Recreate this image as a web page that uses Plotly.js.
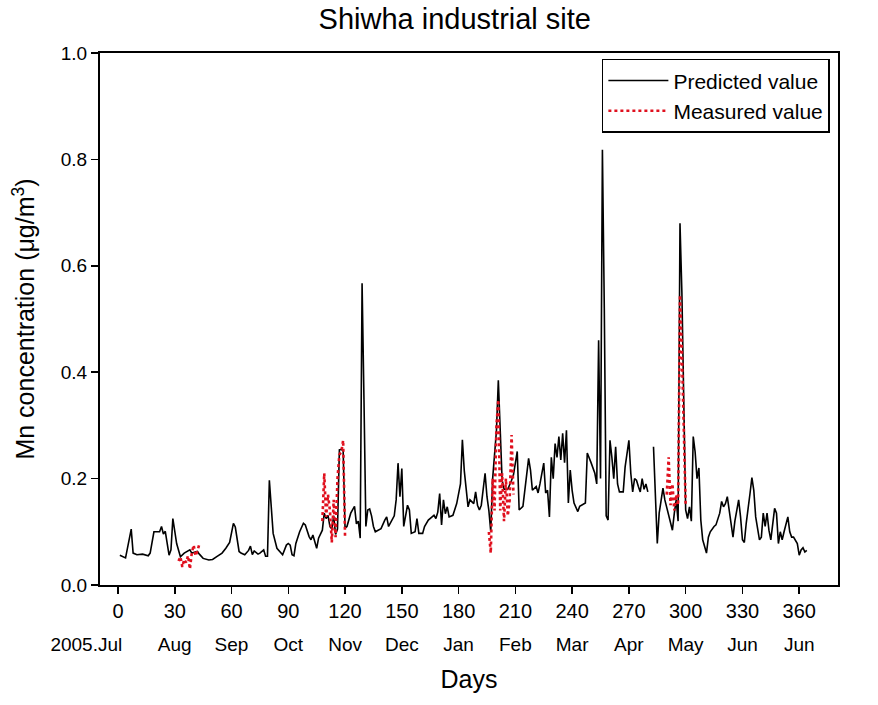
<!DOCTYPE html>
<html>
<head>
<meta charset="utf-8">
<script src="https://cdn.plot.ly/plotly-3.0.1.min.js"></script>
<style>
html,body{margin:0;padding:0;background:#fff;}
#chart{width:878px;height:705px;}
</style>
</head>
<body>
<div id="chart"></div>
<script>
// Predicted daily Mn concentration (null = gap in record)
const predDays = [1,4,7,8,10,13,16,17,19,22,23,24,25,27,28,29,31,33,35,38,39,42,43,45,48,50,52,55,57,59,61,62,64,65,67,69,70,71,72,74,75,77,78,79,80,81,82,84,86,87,89,90,91,92,93,94,96,98,99,101,102,103,105,106,108,109,110,111,112,113,114,115,116,117,118,119,120,121,123,125,126,127,128,129,130,131,132,133,134,135,136,138,139,141,142,143,145,146,147,148,149,150,151,152,153,154,155,157,158,159,161,162,164,166,167,168,169,170,171,172,173,174,175,177,178,179,181,182,183,184,185,186,188,189,190,191,192,194,195,196,197,198,200,201,202,203,204,206,208,209,211,212,214,216,217,218,219,221,222,223,225,226,227,228,229,230,231,232,233,234,235,236,237,238,239,240,241,243,244,247,248,250,252,253,254,255,256,257,258,259,260,261,262,263,264,265,267,268,269,270,271,272,273,274,275,276,277,278,279,280,281,283,285,286,288,289,291,293,294,295,296,297,298,299,300,301,302,303,304,305,306,307,308,309,311,312,313,315,316,318,319,320,321,322,323,324,325,326,328,329,330,331,332,334,335,336,337,339,340,341,342,343,344,345,346,347,348,349,350,351,352,354,355,356,357,359,360,361,362,363,364];
const predValues = [.056,.051,.105,.060,.057,.058,.055,.060,.100,.100,.110,.096,.101,.056,.066,.125,.078,.053,.060,.066,.060,.063,.058,.050,.047,.048,.053,.060,.069,.080,.116,.109,.063,.060,.057,.065,.073,.057,.064,.058,.060,.066,.054,.054,.197,.147,.097,.069,.060,.057,.075,.078,.075,.057,.055,.078,.100,.116,.113,.091,.085,.094,.069,.088,.103,.135,.125,.131,.110,.105,.130,.095,.105,.254,.255,.252,.107,.110,.135,.148,.115,.120,.088,.567,.348,.110,.141,.143,.130,.110,.100,.103,.106,.122,.128,.110,.125,.130,.160,.229,.166,.219,.110,.130,.150,.141,.097,.100,.125,.097,.097,.110,.122,.128,.131,.125,.137,.172,.113,.160,.134,.147,.128,.131,.141,.153,.190,.273,.215,.175,.147,.160,.153,.175,.150,.141,.150,.210,.166,.140,.100,.200,.290,.385,.290,.197,.180,.180,.197,.207,.251,.141,.148,.210,.238,.216,.178,.185,.173,.190,.229,.173,.178,.128,.240,.200,.266,.240,.279,.235,.285,.230,.291,.154,.216,.178,.154,.138,.148,.154,.248,.230,.210,.190,.460,.200,.818,.520,.130,.122,.272,.240,.200,.260,.190,.175,.175,.222,.247,.272,.210,.175,.200,.197,.185,.175,.200,.180,.190,.175,null,.260,.078,.135,.182,.160,.130,.103,.135,.160,.120,.680,.550,.300,.141,.125,.147,.120,.279,.250,.200,.220,.122,.085,.060,.090,.100,.110,.113,.135,.157,.147,.153,.166,.140,.122,.090,.120,.160,.128,.085,.080,.116,.172,.202,.178,.128,.085,.090,.135,.110,.135,.103,.085,.110,.144,.135,.078,.100,.085,.100,.128,.100,.090,.090,.078,.056,.066,.070,.062,.065];

// Measured values (four sampling campaigns, null separates them)
const measDays = [32,33,34,35,36,37,38,39,40,41,42,43,44,108,109,110,111,112,113,114,115,116,117,118,119,120,121,196,197,198,199,200,201,202,203,204,205,206,207,208,209,210,290,291,292,293,294,295,296,297,298,299,300];
const measValues = [.045,.053,.034,.048,.042,.055,.030,.060,.075,.055,.064,.077,null,.120,.210,.128,.170,.140,.080,.160,.090,.200,.245,.250,.272,.091,null,.100,.060,.200,.140,.300,.348,.140,.210,.120,.200,.130,.160,.282,.170,null,.170,.240,.150,.190,.140,.170,.150,.545,.440,.300,.150];

// Axis tick labels
const dayTicks = [0,30,60,90,120,150,180,210,240,270,300,330,360];
const monthLabels = ['2005.Jul','Aug','Sep','Oct','Nov','Dec','Jan','Feb','Mar','Apr','May','Jun','Jun'];
const yTicks = [0,0.2,0.4,0.6,0.8,1.0];

const FONT = 'Arial, "Liberation Sans", sans-serif';
const XRANGE = [-9.5, 380.5];
// the first month label sits left of its tick (right-aligned) in the original
const monthText = monthLabels.map((m, i) => i === 0 ? m + '\u00A0'.repeat(12) : m);

const traces = [
  {x: predDays, y: predValues, type: 'scatter', mode: 'lines', name: 'Predicted value',
   line: {color: '#000000', width: 1.6}, connectgaps: false},
  {x: measDays, y: measValues, type: 'scatter', mode: 'lines', name: 'Measured value',
   line: {color: '#e0101e', width: 2.6, dash: 'dot'}, connectgaps: false},
  // carrier for the month-label axis (draws nothing)
  {x: [], y: [], xaxis: 'x2', yaxis: 'y', type: 'scatter', mode: 'lines',
   showlegend: false, hoverinfo: 'skip'}
];

const layout = {
  width: 878, height: 705,
  margin: {l: 100, r: 40, t: 53, b: 120},
  paper_bgcolor: '#ffffff', plot_bgcolor: '#ffffff',
  font: {family: FONT, size: 18, color: '#000'},
  title: {text: 'Shiwha industrial site', x: 0.518, xref: 'container', xanchor: 'center',
          y: 0.988, yref: 'container', yanchor: 'top', font: {family: FONT, size: 29, color: '#000'}},
  showlegend: true,
  legend: {x: 0.989, xanchor: 'right', y: 0.989, yanchor: 'top', bordercolor: '#000', borderwidth: 1.5,
           bgcolor: '#fff', font: {family: FONT, size: 21}, tracegroupgap: 0, itemwidth: 60},
  xaxis: {
    range: XRANGE, tickmode: 'array', tickvals: dayTicks, ticktext: dayTicks.map(String),
    ticks: 'outside', ticklen: 7, tickwidth: 1.5, tickcolor: '#000', tickangle: 0,
    showline: true, linecolor: '#000', linewidth: 2, mirror: true,
    showgrid: false, zeroline: false,
    tickfont: {family: FONT, size: 20}
  },
  xaxis2: {
    overlaying: 'x', anchor: 'y', side: 'bottom', range: XRANGE,
    tickmode: 'array', tickvals: dayTicks, ticktext: monthText, tickangle: 0,
    ticks: '', showline: false, showgrid: false, zeroline: false,
    ticklabelstandoff: 46,
    tickfont: {family: FONT, size: 19},
    title: {text: 'Days', font: {family: FONT, size: 25}, standoff: 16}
  },
  yaxis: {
    range: [0, 1], tickmode: 'array', tickvals: yTicks, tickformat: '.1f',
    ticks: 'outside', ticklen: 7, tickwidth: 1.5, tickcolor: '#000',
    showline: true, linecolor: '#000', linewidth: 2, mirror: true,
    showgrid: false, zeroline: false,
    tickfont: {family: FONT, size: 19},
    title: {text: 'Mn concentration (\u03BCg/m<sup>3</sup>)', font: {family: FONT, size: 25}, standoff: 19}
  }
};

Plotly.newPlot('chart', traces, layout, {displayModeBar: false, staticPlot: true});
</script>
</body>
</html>
